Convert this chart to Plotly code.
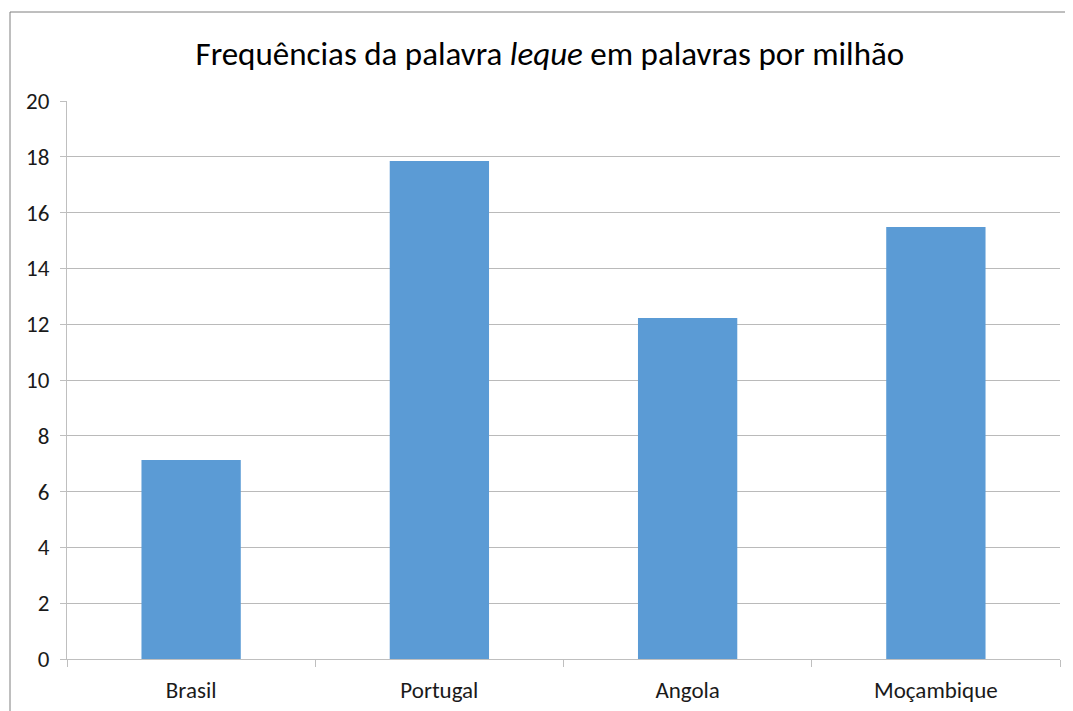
import plotly.graph_objects as go

paises = ["Brasil", "Portugal", "Angola", "Moçambique"]
frequencias = [7.13, 17.85, 12.22, 15.48]

FONT = "Carlito, Liberation Sans Narrow, Open Sans, sans-serif"

fig = go.Figure()
fig.add_trace(go.Bar(x=paises, y=frequencias, marker_color="#5B9BD5",
                     marker_line_width=0))

# a página tem margem de 8px no body, por isso as margens compensam
fig.update_layout(
    width=1073, height=711,
    paper_bgcolor="white", plot_bgcolor="white",
    margin=dict(l=59, r=21, t=93, b=60),
    bargap=0.6,
    showlegend=False,
    font=dict(family=FONT, color="#1a1a1a", size=23),
    title=dict(text="Frequências da palavra <i>leque</i> em palavras por milhão",
               x=0.505, xanchor="center", y=1 - 45 / 711, yanchor="middle",
               font=dict(family=FONT, size=33, color="#000000")),
)
fig.update_xaxes(showline=True, linecolor="#BFBFBF", linewidth=1,
                 ticks="outside", tickson="boundaries", ticklen=7, tickcolor="#BFBFBF",
                 tickfont=dict(size=23, color="#1a1a1a"), showgrid=False,
                 ticklabelstandoff=10)
fig.update_yaxes(range=[0, 20], dtick=2, gridcolor="#BABABA", gridwidth=1,
                 showline=True, linecolor="#BFBFBF", linewidth=1,
                 zeroline=False, ticks="outside", ticklen=6, tickcolor="#BFBFBF",
                 tickfont=dict(size=23, color="#1a1a1a"), ticklabelstandoff=6)

# moldura do gráfico (parcialmente cortada na imagem)
fig.add_shape(type="rect", xref="paper", yref="paper",
              x0=-57 / 993, x1=1.2, y0=-0.3, y1=1 + 89 / 558,
              line=dict(color="#7F7F7F", width=1), layer="below")

fig.write_html("out.html")
